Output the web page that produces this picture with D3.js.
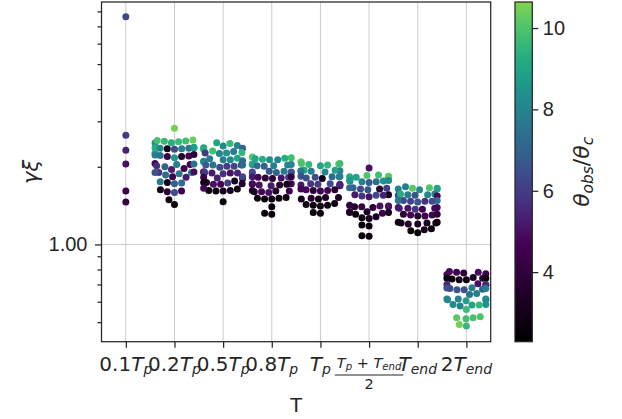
<!DOCTYPE html>
<html>
<head>
<meta charset="utf-8">
<script src="https://cdn.jsdelivr.net/npm/d3@7/dist/d3.min.js"></script>
<style>
  html, body { margin: 0; padding: 0; background: #ffffff; }
  svg { display: block; }
  text { fill: #262626; }
  .sans { font-family: "Liberation Sans", Arial, sans-serif; }
  .math { font-family: "DejaVu Sans", sans-serif; white-space: pre; }
</style>
</head>
<body>
<svg id="chart" width="622" height="419"></svg>
<script>
// Time snapshots along the x axis and their (TeX-like) labels
const categories = ["0.1Tp", "0.2Tp", "0.5Tp", "0.8Tp", "Tp", "(Tp+Tend)/2", "Tend", "2Tend"];
const tickLabels = ["0.1T_p", "0.2T_p", "0.5T_p", "0.8T_p", "T_p", "\\frac{T_p + T_{end}}{2}", "T_{end}", "2T_{end}"];

// gamma*xi for each run at a given time: [value, theta_obs/theta_c]
const gx_01Tp = [[7.63,6.3],[2.65,6.0],[2.32,5.4],[2.05,5.0],[1.61,4.6],[1.46,4.2]];

const gx_02Tp = [
  [2.82,10.5],
  [2.52,9.8],[2.48,9.3],[2.50,9.7],[2.47,8.2],[2.51,9.6],[2.53,9.9],[2.54,10.4],
  [2.37,9.2],[2.35,2.8],[2.36,8.0],[2.38,9.0],[2.35,7.9],[2.34,6.3],[2.36,7.6],[2.37,8.7],
  [2.26,9.3],[2.19,3.5],[2.20,4.6],[2.22,7.8],[2.19,4.4],[2.21,7.4],[2.23,3.8],[2.17,8.7],
  [2.00,7.0],[1.97,4.5],[2.06,4.8],[2.04,7.8],[2.04,4.7],[2.02,5.7],[2.05,7.5],[1.95,5.3],
  [1.83,4.6],[1.88,7.7],[1.86,7.3],[1.90,5.9],[1.90,7.9],[1.91,4.9],[1.90,6.5],[1.82,5.2],
  [1.74,2.9],[1.72,6.9],[1.73,7.4],[1.75,7.7],
  [1.63,3.0],[1.60,3.8],[1.59,6.4],[1.61,4.5],
  [1.49,2.6],[1.43,2.7]
];

const gx_05Tp = [
  [2.48,9.0],[2.46,9.6],[2.42,8.0],[2.41,8.2],
  [2.37,8.8],[2.36,7.0],
  [2.30,9.8],[2.26,8.5],[2.34,9.2],[2.27,9.5],[2.25,8.0],[2.26,6.0],[2.29,7.8],
  [2.16,9.0],[2.10,8.2],[2.13,7.8],[2.11,7.3],[2.13,8.1],[2.09,8.0],[2.15,7.7],
  [2.03,7.5],[2.01,6.0],[2.03,6.8],[2.01,6.2],[2.03,6.5],[1.99,6.4],[2.03,7.2],
  [1.91,4.0],[1.89,5.0],[1.88,5.8],[1.89,5.2],[1.89,5.5],[1.91,5.2],[1.90,6.0],
  [1.82,4.3],[1.81,5.4],[1.80,3.8],[1.83,6.2],
  [1.74,3.5],[1.76,3.2],[1.72,3.5],[1.74,2.8],[1.71,4.6],[1.71,5.0],[1.73,6.0],
  [1.64,2.8],[1.62,3.2],[1.61,3.2],[1.61,2.9],[1.62,2.7],[1.65,4.8],
  [1.465,2.6]
];

const gx_08Tp = [
  [2.17,9.8],[2.14,9.2],[2.18,10.0],[2.13,8.2],[2.15,9.0],[2.13,8.0],[2.16,9.3],
  [2.04,7.8],[2.05,9.0],[2.03,8.0],[2.02,7.8],[2.01,7.0],[2.02,7.2],[2.04,8.0],
  [1.92,6.6],[1.90,7.0],[1.91,5.8],[1.89,6.5],[1.90,6.4],[1.92,7.6],[1.91,6.6],
  [1.83,5.2],[1.81,4.0],[1.82,4.8],[1.80,3.9],[1.82,6.0],[1.81,5.0],[1.83,4.0],
  [1.72,4.8],[1.70,3.6],[1.71,3.0],[1.70,5.0],[1.72,3.7],[1.69,5.2],[1.71,4.9],
  [1.62,3.6],[1.60,4.8],[1.61,3.5],[1.59,5.0],[1.60,3.3],[1.61,4.6],
  [1.51,2.6],[1.50,2.8],[1.50,2.5],[1.51,2.7],[1.52,2.9],
  [1.40,2.6],
  [1.32,2.5],[1.31,2.6]
];

const gx_Tp = [
  [2.09,10.3],[2.06,9.9],[2.04,9.6],[2.02,9.0],[2.05,10.1],[2.03,9.5],[2.06,9.8],
  [1.93,8.0],[1.94,9.0],[1.92,7.8],[1.91,8.1],[1.93,8.3],[1.94,9.1],[1.92,7.6],
  [1.84,6.6],[1.83,7.2],[1.80,2.9],[1.82,6.4],[1.83,7.0],[1.81,6.5],[1.84,7.8],
  [1.72,5.8],[1.70,5.0],[1.71,6.0],[1.69,5.1],[1.72,6.4],[1.70,5.2],[1.71,5.5],
  [1.64,4.6],[1.62,3.8],[1.63,4.8],[1.61,4.5],[1.63,3.6],[1.62,4.7],
  [1.52,3.3],[1.50,2.8],[1.51,3.7],[1.50,3.2],[1.52,3.4],
  [1.43,2.7],[1.42,2.6],[1.41,3.0],[1.42,2.7],[1.44,2.8],
  [1.33,2.5],[1.32,2.6]
];

const gx_TpTendHalf = [
  [1.98,5.0],
  [1.85,10.0],[1.83,9.5],[1.86,9.8],[1.82,9.0],[1.84,10.2],[1.83,9.2],
  [1.77,8.2],[1.75,7.3],[1.76,8.4],[1.74,6.8],[1.76,8.0],[1.77,8.6],[1.75,7.9],
  [1.66,7.0],[1.64,6.3],[1.65,6.0],[1.63,6.6],[1.64,3.6],[1.66,7.2],
  [1.56,5.2],[1.54,5.8],[1.55,6.3],[1.53,5.1],[1.56,2.9],[1.55,5.4],
  [1.41,5.0],[1.40,4.2],[1.39,3.9],[1.41,4.8],[1.40,3.6],[1.42,4.1],[1.40,5.0],
  [1.34,3.2],[1.33,3.4],[1.32,4.4],[1.33,3.1],[1.31,2.7],[1.34,3.5],
  [1.27,2.8],[1.26,3.1],[1.28,3.3],
  [1.19,2.6],[1.18,2.7],
  [1.08,2.5],[1.075,2.6]
];

const gx_Tend = [
  [1.674,7.8],
  [1.65,10.2],[1.64,9.3],[1.63,8.2],[1.64,7.9],[1.65,9.0],[1.66,10.0],
  [1.57,7.9],[1.56,8.1],[1.55,6.6],[1.54,4.8],[1.56,7.8],[1.55,6.4],[1.57,9.2],
  [1.48,6.3],[1.47,5.8],[1.48,7.4],[1.46,6.6],[1.47,6.2],[1.48,7.5],[1.47,6.5],
  [1.39,4.9],[1.38,5.1],[1.37,5.8],[1.38,4.8],[1.39,5.0],[1.37,4.7],[1.38,5.2],
  [1.31,3.7],[1.30,4.6],[1.29,3.6],[1.30,4.7],[1.31,3.8],[1.29,4.5],
  [1.22,2.7],[1.21,3.2],[1.20,3.3],[1.21,3.0],[1.22,2.6],[1.20,3.4],[1.21,2.8],
  [1.15,2.6],[1.14,3.1],[1.13,2.7],
  [1.11,2.5]
];

const gx_2Tend = [
  [0.78,4.6],[0.785,4.9],[0.775,3.8],[0.77,4.7],[0.78,5.0],[0.765,4.8],
  [0.74,4.0],[0.735,2.6],[0.73,2.8],[0.745,3.3],[0.74,2.7],[0.73,2.9],[0.74,2.6],
  [0.705,5.0],[0.70,5.4],[0.695,5.2],[0.70,5.6],
  [0.675,6.3],[0.67,7.0],[0.668,6.5],[0.675,7.8],[0.668,6.6],[0.68,7.8],[0.678,6.4],
  [0.645,7.8],[0.64,7.5],
  [0.615,8.0],[0.61,8.3],[0.605,8.8],[0.615,8.1],[0.61,8.4],[0.615,8.2],
  [0.585,8.2],[0.578,8.0],[0.583,9.0],[0.583,9.6],[0.585,8.5],
  [0.56,9.7],
  [0.525,10.0],[0.515,9.8],[0.52,9.9],[0.52,10.2],
  [0.49,10.5],[0.483,9.6]
];

const seriesByCategory = [gx_01Tp, gx_02Tp, gx_05Tp, gx_08Tp, gx_Tp, gx_TpTendHalf, gx_Tend, gx_2Tend];

const yDomain = [0.42, 8.70];
const yMajorTicks = [1];
const yMinorTicks = [0.5, 0.6, 0.7, 0.8, 0.9, 2, 3, 4, 5, 6, 7, 8];
const thetaDomain = [2.29, 10.64];
const colorbarTicks = [4, 6, 8, 10];

// ---------------------------------------------------------------
const ink = "#262626";
const svg = d3.select("#chart");
const frame = { left: 101.5, right: 490.7, top: 2, bottom: 341.7 };

const x = d3.scalePoint().domain(categories).range([frame.left, frame.right]).padding(0.5);
const y = d3.scaleLog().domain(yDomain).range([frame.bottom, frame.top]);

// black fading into purple, then the lower part of viridis
const tKnee = (4.7 - thetaDomain[0]) / (thetaDomain[1] - thetaDomain[0]);
const darkRamp = d3.interpolateRgb("#000000", "#440154");
function thetaInterp(t) {
  if (t < tKnee) return darkRamp(t / tKnee);
  return d3.interpolateViridis((t - tKnee) / (1 - tKnee) * 0.81);
}
const color = d3.scaleSequential(thetaInterp).domain(thetaDomain).clamp(true);

// ---- grid ----
const grid = svg.append("g").attr("stroke", "#cccccc").attr("stroke-width", 1);
grid.selectAll("line.v").data(categories).join("line")
  .attr("x1", d => x(d)).attr("x2", d => x(d))
  .attr("y1", frame.top).attr("y2", frame.bottom);
grid.selectAll("line.h").data(yMajorTicks).join("line")
  .attr("x1", frame.left).attr("x2", frame.right)
  .attr("y1", d => y(d)).attr("y2", d => y(d));

// ---- swarm layout (lowest value placed first, nearest-to-centre free slot) ----
const R = 3.5, SPACING = 7.2;
const halfWidth = x.step() * 0.8 / 2;
function swarm(rows, cx) {
  const pts = rows.map(([v, th]) => ({ v, th, py: y(v), dx: 0 }));
  const order = pts.slice().sort((a, b) => b.py - a.py);
  const placed = [];
  for (const p of order) {
    const near = placed.filter(q => Math.abs(q.py - p.py) < SPACING);
    const cands = [0];
    near.forEach((q, i) => {
      const dx = Math.sqrt(SPACING * SPACING - (p.py - q.py) ** 2);
      if (i % 2 === 0) cands.push(q.dx - dx, q.dx + dx);
      else cands.push(q.dx + dx, q.dx - dx);
    });
    const sorted = cands.map((c, i) => [c, i]).sort((a, b) => Math.abs(a[0]) - Math.abs(b[0]) || a[1] - b[1]);
    let chosen = 0;
    for (const [c] of sorted) {
      if (near.every(q => (c - q.dx) ** 2 + (p.py - q.py) ** 2 >= SPACING * SPACING - 1e-6)) { chosen = c; break; }
    }
    p.dx = chosen;
    placed.push(p);
  }
  pts.forEach(p => { p.px = cx + Math.max(-halfWidth, Math.min(halfWidth, p.dx)); });
  return pts;
}

const dots = svg.append("g");
categories.forEach((c, i) => {
  const pts = swarm(seriesByCategory[i], x(c));
  dots.append("g").selectAll("circle").data(pts).join("circle")
    .attr("cx", d => d.px).attr("cy", d => d.py).attr("r", R)
    .attr("fill", d => color(d.th));
});

// ---- axes ----
function styleAxis(g) {
  g.selectAll(".domain").remove();
  g.selectAll(".tick line").attr("stroke", ink).attr("stroke-width", 1.25);
  g.selectAll(".tick text").attr("class", "sans").attr("font-size", 20).attr("fill", ink);
}
svg.append("g").attr("transform", `translate(0,${frame.bottom})`)
  .call(d3.axisBottom(x).tickSize(6).tickFormat(() => ""))
  .call(styleAxis);
svg.append("g").attr("transform", `translate(${frame.left},0)`)
  .call(d3.axisLeft(y).tickValues(yMajorTicks).tickSize(6.5).tickPadding(7.5).tickFormat(d3.format(".2f")))
  .call(styleAxis);
svg.append("g").attr("transform", `translate(${frame.left},0)`)
  .call(d3.axisLeft(y).tickValues(yMinorTicks).tickSize(4).tickFormat(() => ""))
  .call(styleAxis);

svg.append("rect")
  .attr("x", frame.left).attr("y", frame.top)
  .attr("width", frame.right - frame.left).attr("height", frame.bottom - frame.top)
  .attr("fill", "none").attr("stroke", ink).attr("stroke-width", 1.25);

// ---- math-style labels ----
function mathTokens(str) {
  const out = [];
  let i = 0;
  while (i < str.length) {
    if (str[i] === "_") {
      let s;
      if (str[i + 1] === "{") { const j = str.indexOf("}", i); s = str.slice(i + 2, j); i = j + 1; }
      else { s = str[i + 1]; i += 2; }
      out.push({ s, sub: true });
    } else {
      out.push({ s: str[i], sub: false });
      i++;
    }
  }
  return out;
}
function writeMath(text, str, size, drop) {
  let down = false;
  for (const tk of mathTokens(str)) {
    const ts = text.append("tspan").text(tk.s)
      .attr("font-style", /[A-Za-z\u0370-\u03ff]/.test(tk.s) ? "italic" : "normal")
      .attr("font-size", tk.sub ? size * 0.7 : size);
    if (tk.sub && !down) { ts.attr("dy", drop); down = true; }
    else if (!tk.sub && down) { ts.attr("dy", -drop); down = false; }
  }
}

const labelBase = 370.5;
const xl = svg.append("g");
categories.forEach((c, i) => {
  const lab = tickLabels[i];
  const frac = lab.match(/^\\frac\{(.+)\}\{([^{}]+)\}$/);
  if (frac) {
    const num = xl.append("text").attr("class", "math").attr("text-anchor", "middle")
      .attr("x", x(c)).attr("y", 368);
    writeMath(num, frac[1], 14.5, 2.2);
    const w = num.node().getComputedTextLength() + 4;
    xl.append("line").attr("x1", x(c) - w / 2).attr("x2", x(c) + w / 2)
      .attr("y1", 375).attr("y2", 375).attr("stroke", ink).attr("stroke-width", 1.2);
    const den = xl.append("text").attr("class", "math").attr("text-anchor", "middle")
      .attr("x", x(c)).attr("y", 389);
    writeMath(den, frac[2], 14.5, 2.2);
  } else {
    const t = xl.append("text").attr("class", "math").attr("text-anchor", "middle")
      .attr("x", x(c)).attr("y", labelBase);
    writeMath(t, lab, 20, 3);
  }
});

svg.append("text").attr("class", "sans").attr("text-anchor", "middle")
  .attr("x", (frame.left + frame.right) / 2).attr("y", 411.5).attr("font-size", 21)
  .text("T");

const yl = svg.append("text").attr("class", "math").attr("text-anchor", "middle")
  .attr("transform", `translate(37.5,${(frame.top + frame.bottom) / 2}) rotate(-90)`);
writeMath(yl, "γξ", 21, 3);

// ---- colour bar ----
const cb = { x: 515, w: 17.3 };
const cy = d3.scaleLinear().domain(thetaDomain).range([frame.bottom, frame.top]);
const grad = svg.append("defs").append("linearGradient").attr("id", "thetaGrad")
  .attr("x1", 0).attr("y1", 1).attr("x2", 0).attr("y2", 0);
d3.range(0, 1.0001, 0.02).forEach(t => {
  grad.append("stop").attr("offset", t).attr("stop-color", thetaInterp(t));
});
svg.append("rect").attr("x", cb.x).attr("y", frame.top)
  .attr("width", cb.w).attr("height", frame.bottom - frame.top)
  .attr("fill", "url(#thetaGrad)").attr("stroke", ink).attr("stroke-width", 1.25);
svg.append("g").attr("transform", `translate(${cb.x + cb.w},0)`)
  .call(d3.axisRight(cy).tickValues(colorbarTicks).tickSize(6).tickPadding(4.5))
  .call(styleAxis);

const cl = svg.append("text").attr("class", "math").attr("text-anchor", "middle")
  .attr("transform", `translate(589,${(frame.top + frame.bottom) / 2}) rotate(-90)`);
writeMath(cl, "θ_{obs}/θ_c", 22, 3.5);
</script>
</body>
</html>
